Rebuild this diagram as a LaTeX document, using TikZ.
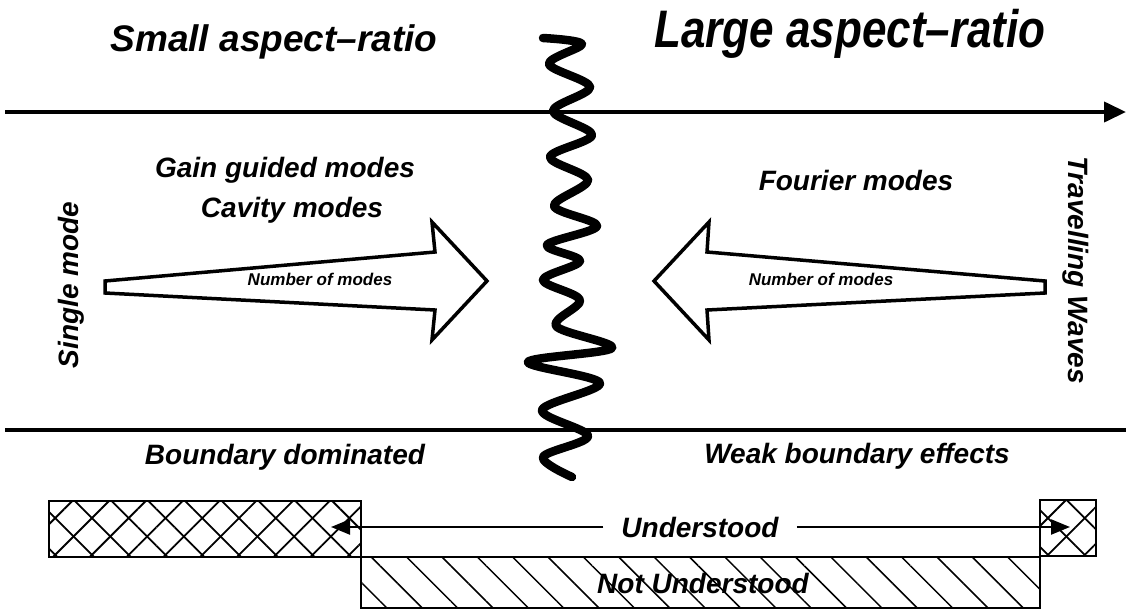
\documentclass[tikz,border=0pt]{standalone}
\usepackage{fontspec}
\setmainfont{Liberation Sans}
\usepackage{graphicx}
\usetikzlibrary{arrows.meta,patterns.meta}
\tikzset{
  lbl/.style={font=\fontsize{28pt}{32pt}\selectfont\bfseries\itshape, inner sep=1pt},
  modelbl/.style={font=\fontsize{17pt}{20pt}\selectfont\bfseries\itshape, inner sep=1pt},
  headline/.style={font=\fontsize{#1}{#1}\selectfont\bfseries\itshape, inner sep=0pt},
  axisline/.style={line width=4pt},
  bigarrow/.style={line width=3.5pt, line join=miter, miter limit=20},
  wave/.style={line width=8.5pt, line cap=round, line join=round},
  xbox/.style={draw, line width=1.8pt},
  hatchA/.style={pattern={Lines[angle=45, distance=26pt, line width=1.8pt]}},
  hatchB/.style={pattern={Lines[angle=-45, distance=26pt, line width=1.8pt]}},
  uarrow/.style={line width=2.2pt, -{Triangle[length=19pt, width=15pt]}},
}

\begin{document}
\begin{tikzpicture}[x=1pt, y=-1pt]
  \useasboundingbox (0,0) rectangle (1129,610);

  % Headings
  \node[headline=37pt] (small) at (274,42) {Small aspect--ratio};
  \node[headline=44pt] (large) at (850,34) {\scalebox{1}[1.2]{Large aspect--ratio}};

  % Axis lines
  \coordinate (topL) at (5,112);
  \coordinate (topR) at (1126,112);
  \coordinate (botL) at (5,430);
  \coordinate (botR) at (1126,430);
  \draw[axisline, -{Triangle[length=22pt, width=20pt]}] (topL) -- (topR);
  \draw[axisline] (botL) -- (botR);

  % Mode labels
  \node[lbl] (gain) at (285,170) {Gain guided modes};
  \node[lbl] (cavity) at (292,210) {Cavity modes};
  \node[lbl] (fourier) at (856,180) {Fourier modes};
  \node[lbl, rotate=90] (single) at (71,285) {Single mode};
  \node[lbl, rotate=-90] (travel) at (1076,270) {Travelling Waves};

  % Number of modes arrows
  \draw[bigarrow] (105,281) -- (435,252) -- (432,222) -- (487,281)
    -- (432,340) -- (435,310) -- (105,293) -- cycle;
  \draw[bigarrow] (1045,281) -- (707,252) -- (709,222) -- (654,281)
    -- (709,340) -- (707,310) -- (1045,293) -- cycle;
  \node[modelbl] (nleft) at (320,279) {Number of modes};
  \node[modelbl] (nright) at (821,279) {Number of modes};

  % Separating wave
  \draw[wave] plot[smooth, tension=0.55] coordinates {
    (543,38) (582,44) (549,64) (590,87) (553,111) (592,135) (550,157)
    (588,180) (554,206) (597,226) (547,245) (580,261) (543,280) (580,300)
    (556,326) (612,348) (528,362) (600,383) (542,410) (588,436) (543,457)
    (572,477)};

  % Boundary labels
  \node[lbl] (bdom) at (285,457) {Boundary dominated};
  \node[lbl] (weak) at (857,456) {Weak boundary effects};

  % Understood / not understood bars
  \fill[hatchA] (49,501) rectangle (361,557);
  \fill[hatchB] (49,501) rectangle (361,557);
  \draw[xbox] (49,501) rectangle (361,557);
  \fill[hatchA] (1040,500) rectangle (1096,556);
  \fill[hatchB] (1040,500) rectangle (1096,556);
  \draw[xbox] (1040,500) rectangle (1096,556);
  \fill[pattern={Lines[angle=-45, distance=25pt, line width=1.5pt]}] (361,557) rectangle (1040,608);
  \draw[xbox] (361,557) rectangle (1040,608);
  \node[lbl, inner sep=0pt] (notund) at (703,583) {Not Understood};

  \node[lbl, inner xsep=18pt] (und) at (700,527) {Understood};
  \coordinate (undL) at (331,527);
  \coordinate (undR) at (1070,527);
  \draw[uarrow] (und) -- (undL);
  \draw[uarrow] (und) -- (undR);
\end{tikzpicture}
\end{document}
